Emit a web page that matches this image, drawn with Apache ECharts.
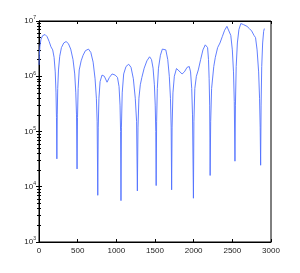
<!DOCTYPE html>
<html><head><meta charset="utf-8">
<script src="https://cdn.jsdelivr.net/npm/echarts@6/dist/echarts.min.js"></script>
<style>html,body{margin:0;padding:0;background:#fff}#c{width:300px;height:273px}</style>
</head><body><div id="c"></div>
<script>
const xTicks = [0, 500, 1000, 1500, 2000, 2500, 3000];
const yTicks = [1e3, 1e4, 1e5, 1e6, 1e7];
const freqs = [
  0,5,12,25,45,78,105,130,155,177,195,210,220,226,231,
  236,242,252,268,290,320,350,380,410,440,462,476,485,492,
  498,506,520,545,570,600,640,670,700,725,742,752,760,
  766,775,790,815,845,880,910,945,985,1015,1035,1048,1055,1060,
  1066,1076,1095,1125,1160,1190,1220,1245,1262,1272,
  1280,1292,1310,1330,1360,1395,1430,1455,1475,1492,1503,1510,1515,
  1521,1530,1545,1570,1595,1615,1640,1665,1685,1700,1709,1715,
  1721,1732,1750,1778,1810,1850,1880,1915,1943,1960,1975,1985,1997,
  2003,2015,2035,2060,2090,2120,2150,2165,2180,2192,2200,2207,2213,
  2220,2232,2260,2280,2310,2340,2370,2400,2430,2455,2480,2500,2515,2525,2534,
  2540,2550,2565,2585,2610,2625,2645,2670,2690,2720,2750,2780,2800,2820,2840,2852,2860,2866,
  2872,2880,2892,2905,2914
];
const mags = [
  1.6e6,2.4e6,3.5e6,4.6e6,5.4e6,5.7e6,5.2e6,4.3e6,3.4e6,3.0e6,2.2e6,1.2e6,5e5,1.8e5,3.2e4,
  2e5,6e5,1.3e6,2.3e6,3.3e6,4e6,4.25e6,3.9e6,3.1e6,2e6,1.1e6,5e5,2e5,2.1e4,
  1.8e5,6e5,1.3e6,1.9e6,2.4e6,2.9e6,3.1e6,2.7e6,1.8e6,9e5,4e5,1.5e5,7e3,
  1.2e5,4e5,8e5,1.05e6,1e6,7.8e5,9.5e5,1.1e6,1.05e6,9.5e5,6.5e5,3e5,1e5,5.6e3,
  1.2e5,5e5,1.1e6,1.5e6,1.65e6,1.45e6,9e5,4e5,1.5e5,8.4e3,
  1.2e5,4e5,7e5,9.5e5,1.4e6,1.9e6,2.25e6,2e6,1.4e6,7e5,3e5,1e5,1.05e4,
  1.5e5,6e5,1.4e6,2.4e6,3.1e6,3.3e6,3e6,2e6,1e6,4e5,1.2e5,8.8e3,
  1.2e5,5e5,1e6,1.38e6,1.25e6,1.1e6,1.2e6,1.45e6,1.5e6,1.2e6,6e5,2e5,6.2e3,
  1.5e5,6e5,1e6,1.3e6,2e6,3e6,3.7e6,3.8e6,3.3e6,2e6,9e5,3e5,1.6e4,
  1.5e5,6e5,1.5e6,2.2e6,3.3e6,4e6,5.2e6,6.8e6,8e6,7.6e6,5.5e6,3e6,1.2e6,3.5e5,2.9e4,
  3e5,1.5e6,4e6,7e6,9e6,9.3e6,8.6e6,8.3e6,8e6,7.3e6,6.6e6,5.5e6,5e6,3e6,1.2e6,4e5,1.2e5,2.45e4,
  3e5,1.5e6,4e6,6.5e6,7.3e6
];
const seriesData = freqs.map((f, i) => [f, mags[i]]);
const font = 'Liberation Sans';
function yLabel(v) {
  const e = Math.round(Math.log10(v));
  return '10{s|' + e + '}';
}
const chart = echarts.init(document.getElementById('c'), null, {renderer: 'canvas'});
const tickStyle = {show: true, inside: true, length: 3, lineStyle: {color: '#000', width: 1}};
chart.setOption({
  animation: false,
  backgroundColor: '#fff',
  grid: {left: 39, right: 29, top: 21, bottom: 31, show: true, borderColor: '#000', borderWidth: 1},
  xAxis: [{
    type: 'value', min: xTicks[0], max: xTicks[xTicks.length - 1], interval: 500,
    position: 'bottom',
    axisLine: {show: true, lineStyle: {color: '#000', width: 1}},
    axisTick: tickStyle,
    axisLabel: {fontFamily: font, fontSize: 8, color: '#222', margin: 5, formatter: v => String(v)},
    splitLine: {show: false}
  }, {
    type: 'value', min: xTicks[0], max: xTicks[xTicks.length - 1], interval: 500,
    position: 'top',
    axisLine: {show: true, lineStyle: {color: '#000', width: 1}},
    axisTick: tickStyle,
    axisLabel: {show: false},
    splitLine: {show: false}
  }],
  yAxis: [{
    type: 'log', logBase: 10, min: yTicks[0], max: yTicks[yTicks.length - 1],
    position: 'left',
    axisLine: {show: true, lineStyle: {color: '#000', width: 1}},
    axisTick: tickStyle,
    minorTick: {show: true, splitNumber: 9, length: 2, lineStyle: {color: '#000', width: 1}},
    axisLabel: {
      fontFamily: font, fontSize: 8, color: '#222', margin: 3,
      formatter: yLabel,
      rich: {s: {fontFamily: font, fontSize: 5, color: '#222', verticalAlign: 'bottom', padding: [0, 0, 6, 0]}}
    },
    splitLine: {show: false}
  }, {
    type: 'log', logBase: 10, min: yTicks[0], max: yTicks[yTicks.length - 1],
    position: 'right',
    axisLine: {show: true, lineStyle: {color: '#000', width: 1}},
    axisTick: tickStyle,
    minorTick: {show: true, splitNumber: 9, length: 2, lineStyle: {color: '#000', width: 1}},
    axisLabel: {show: false},
    splitLine: {show: false}
  }],
  series: [{
    type: 'line',
    data: seriesData,
    xAxisIndex: 0, yAxisIndex: 0,
    showSymbol: false,
    smooth: false,
    lineStyle: {color: '#5070ff', width: 0.9},
    emphasis: {disabled: true}
  }]
});
</script></body></html>
